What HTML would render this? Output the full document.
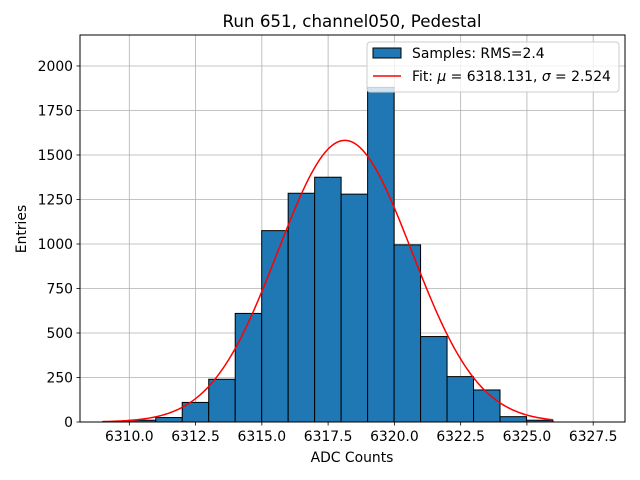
<!DOCTYPE html>
<html><head><meta charset="utf-8"><style>
html,body{margin:0;padding:0;background:#fff;}
svg{display:block;font-family:"DejaVu Sans","Liberation Sans",sans-serif;}
</style></head><body>
<svg id="chart" width="640" height="480" viewBox="0 0 640 480"></svg>
<script>
const binStart = 6309.0;
const binWidth = 0.999;
const counts = [3, 10, 25, 110, 240, 610, 1075, 1285, 1375, 1280, 1880, 995, 480, 255, 180, 30, 10];
const xTicks = [6310.0, 6312.5, 6315.0, 6317.5, 6320.0, 6322.5, 6325.0, 6327.5];
const yTicks = [0, 250, 500, 750, 1000, 1250, 1500, 1750, 2000];
const fitMu = 6318.131;
const fitSigma = 2.524;
const fitAmp = 1582;

const L = 80, R = 625, T = 35, B = 422;
const xMin = 6308.14, xMax = 6328.70, yMin = 0, yMax = 2174;
const X = v => L + (v - xMin) / (xMax - xMin) * (R - L);
const Y = v => B - (v - yMin) / (yMax - yMin) * (B - T);
const NS = "http://www.w3.org/2000/svg";
const svg = document.getElementById('chart');
function mk(tag, attrs, parent) {
  const e = document.createElementNS(NS, tag);
  for (const k in attrs) e.setAttribute(k, attrs[k]);
  (parent || svg).appendChild(e);
  return e;
}
const grid = mk('g', {});


xTicks.forEach(t => mk('line', {x1: X(t), x2: X(t), y1: T, y2: B, stroke: '#b0b0b0', 'stroke-width': 0.8}, grid));
yTicks.forEach(t => mk('line', {x1: L, x2: R, y1: Y(t), y2: Y(t), stroke: '#b0b0b0', 'stroke-width': 0.8}, grid));
const bars = mk('g', {});


counts.forEach((c, i) => {
  const x0 = X(binStart + i * binWidth), x1 = X(binStart + (i + 1) * binWidth);
  const r = mk('rect', {x: x0, y: Y(c), width: x1 - x0, height: Y(0) - Y(c), fill: '#1f77b4', stroke: '#000', 'stroke-width': 1}, bars);
  
  
});
let d = '';
const fx0 = binStart, fx1 = binStart + counts.length * binWidth;
for (let i = 0; i <= 300; i++) {
  const v = fx0 + (fx1 - fx0) * i / 300;
  const f = fitAmp * Math.exp(-0.5 * Math.pow((v - fitMu) / fitSigma, 2));
  d += (i ? 'L' : 'M') + X(v).toFixed(2) + ',' + Y(f).toFixed(2);
}
const curve = mk('path', {d: d, fill: 'none', stroke: '#ff0000', 'stroke-width': 1.5});


const frame = mk('rect', {x: L, y: T, width: R - L, height: B - T, fill: 'none', stroke: '#000', 'stroke-width': 1});


xTicks.forEach(t => {
  mk('line', {x1: X(t), x2: X(t), y1: B, y2: B + 3.5, stroke: '#000', 'stroke-width': 0.8});
  const tx = mk('text', {x: X(t), y: B + 19, 'text-anchor': 'middle', 'font-size': 13.9, fill: '#000'});
  tx.textContent = t.toFixed(1);
  
  
});
yTicks.forEach(t => {
  mk('line', {x1: L - 3.5, x2: L, y1: Y(t), y2: Y(t), stroke: '#000', 'stroke-width': 0.8});
  const ty = mk('text', {x: L - 7, y: Y(t) + 5, 'text-anchor': 'end', 'font-size': 13.9, fill: '#000'});
  ty.textContent = t;
  
  
});
</script>
<script>
(function(){
const NS = "http://www.w3.org/2000/svg";
const svg = document.getElementById('chart');
function mk(tag, attrs) { const e = document.createElementNS(NS, tag); for (const k in attrs) e.setAttribute(k, attrs[k]); svg.appendChild(e); return e; }
const title = mk('text', {x: 352, y: 27, 'text-anchor': 'middle', 'font-size': 16.7});
title.textContent = 'Run 651, channel050, Pedestal';


const xl = mk('text', {x: 352, y: 462, 'text-anchor': 'middle', 'font-size': 13.9});
xl.textContent = 'ADC Counts';


const yl = mk('text', {x: 26, y: 229, 'text-anchor': 'middle', 'font-size': 13.9, transform: 'rotate(-90 26 229)'});
yl.textContent = 'Entries';


const lg = mk('rect', {x: 367, y: 42, width: 252, height: 50, rx: 3, fill: '#fff', 'fill-opacity': 0.8, stroke: '#ccc', 'stroke-width': 1});


const lp = mk('rect', {x: 373, y: 48, width: 28, height: 10, fill: '#1f77b4', stroke: '#000', 'stroke-width': 1});


const lt1 = mk('text', {x: 412, y: 58, 'font-size': 13.9});
lt1.textContent = 'Samples: RMS=2.4';


const ll = mk('line', {x1: 373, x2: 401, y1: 76, y2: 76, stroke: '#ff0000', 'stroke-width': 1.5});


const lt2 = mk('text', {x: 412, y: 81, 'font-size': 13.9});
lt2.innerHTML = 'Fit: <tspan font-style="italic">μ</tspan> = 6318.131, <tspan font-style="italic">σ</tspan> = 2.524';


})();
</script>
</body></html>
